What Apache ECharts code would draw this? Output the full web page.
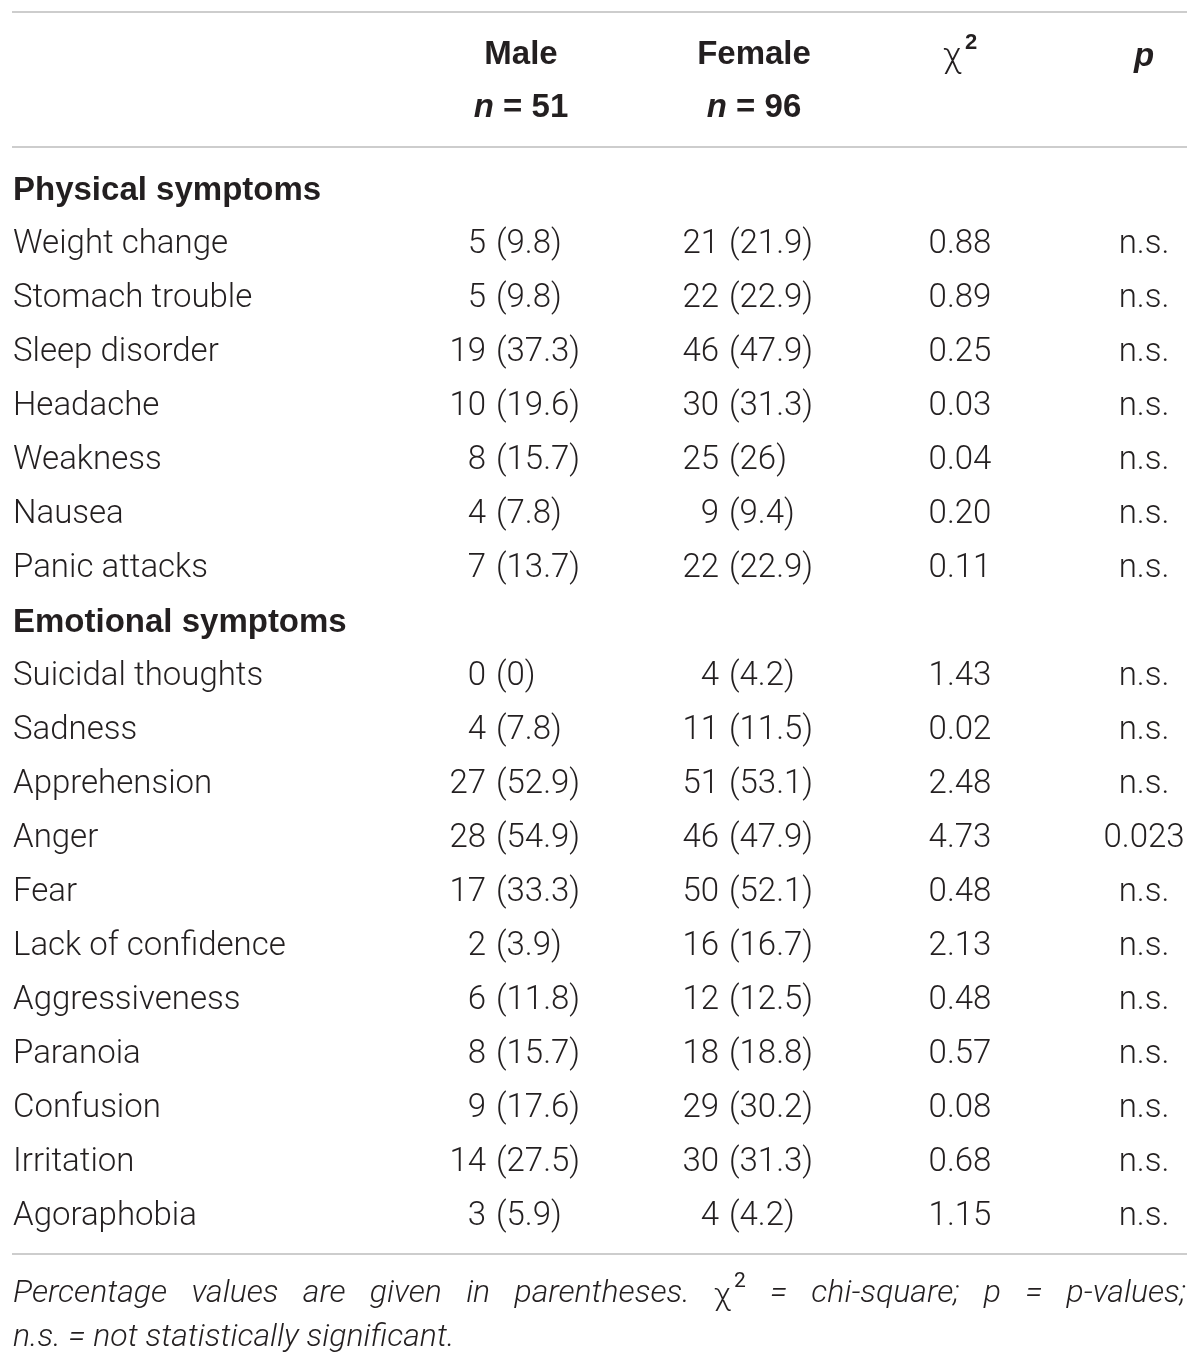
<!DOCTYPE html>
<html>
<head>
<meta charset="utf-8">
<script src="https://cdn.jsdelivr.net/npm/echarts@6/dist/echarts.min.js"></script>
<style>
html,body{margin:0;padding:0;background:#fff}
#main{width:1200px;height:1367px}
</style>
</head>
<body>
<div id="main"></div>
<script>
// table data
var groups = ['Physical symptoms', 'Emotional symptoms']
var groupSize = [7, 11]
var symptoms = ['Weight change', 'Stomach trouble', 'Sleep disorder', 'Headache', 'Weakness', 'Nausea', 'Panic attacks',
	'Suicidal thoughts', 'Sadness', 'Apprehension', 'Anger', 'Fear', 'Lack of confidence', 'Aggressiveness',
	'Paranoia', 'Confusion', 'Irritation', 'Agoraphobia']
var maleN = [5, 5, 19, 10, 8, 4, 7, 0, 4, 27, 28, 17, 2, 6, 8, 9, 14, 3]
var malePct = ['9.8', '9.8', '37.3', '19.6', '15.7', '7.8', '13.7', '0', '7.8', '52.9', '54.9', '33.3', '3.9', '11.8', '15.7', '17.6', '27.5', '5.9']
var femaleN = [21, 22, 46, 30, 25, 9, 22, 4, 11, 51, 46, 50, 16, 12, 18, 29, 30, 4]
var femalePct = ['21.9', '22.9', '47.9', '31.3', '26', '9.4', '22.9', '4.2', '11.5', '53.1', '47.9', '52.1', '16.7', '12.5', '18.8', '30.2', '31.3', '4.2']
var chiSq = ['0.88', '0.89', '0.25', '0.03', '0.04', '0.20', '0.11', '1.43', '0.02', '2.48', '4.73', '0.48', '2.13', '0.48', '0.57', '0.08', '0.68', '1.15']
var pVal = ['n.s.', 'n.s.', 'n.s.', 'n.s.', 'n.s.', 'n.s.', 'n.s.', 'n.s.', 'n.s.', 'n.s.', '0.023', 'n.s.', 'n.s.', 'n.s.', 'n.s.', 'n.s.', 'n.s.', 'n.s.']
var headTop = ['Male', 'Female']
var headN = [51, 96]
var note1 = ['Percentage', 'values', 'are', 'given', 'in', 'parentheses.', 'χ2', '=', 'chi-square;', 'p', '=', 'p-values;']
var note2 = 'n.s. = not statistically significant.'

var FAM = 'Roboto, "Liberation Sans", sans-serif'
var BFAM = '"Liberation Sans", Arial, sans-serif'
var LIGHT = '300 33px ' + FAM
var BOLD = 'bold 33px ' + BFAM
var INK = '#231f20'

// build the rows: group headings + symptoms
var rowLabel = [], rowBold = [], cols = {mN: [], mP: [], fN: [], fP: [], chi: [], p: []}
var k = 0
for (var g = 0; g < groups.length; g++) {
	rowLabel.push(groups[g]); rowBold.push(true)
	for (var c in cols) cols[c].push(null)
	for (var j = 0; j < groupSize[g]; j++, k++) {
		rowLabel.push(symptoms[k]); rowBold.push(false)
		cols.mN.push(String(maleN[k])); cols.mP.push('(' + malePct[k] + ')')
		cols.fN.push(String(femaleN[k])); cols.fP.push('(' + femalePct[k] + ')')
		cols.chi.push(chiSq[k]); cols.p.push(pVal[k])
	}
}
var rowIdx = rowLabel.map(function (r, i) { return String(i) })

function textCol(x, texts, align, fonts) {
	var data = [], txt = [], fnt = []
	texts.forEach(function (t, i) {
		if (t === null) return
		data.push([x, i]); txt.push(t)
		fnt.push(fonts ? fonts[i] : LIGHT)
	})
	return {
		type: 'custom',
		coordinateSystem: 'cartesian2d',
		silent: true,
		data: data,
		renderItem: function (params, api) {
			var pt = api.coord([api.value(0), api.value(1)])
			return {
				type: 'text',
				x: pt[0], y: pt[1],
				style: {
					text: txt[params.dataIndex],
					font: fnt[params.dataIndex],
					fill: INK,
					align: align,
					verticalAlign: 'middle'
				}
			}
		}
	}
}

var graphics = []
function hline(y) {
	graphics.push({type: 'line', shape: {x1: 12, y1: y, x2: 1187, y2: y}, style: {stroke: '#cdcdcd', lineWidth: 2}})
}
function gtext(x, y, t, font, align, extra) {
	var s = {text: t, font: font, fill: INK, align: align || 'center', verticalAlign: 'middle'}
	if (extra) for (var e in extra) s[e] = extra[e]
	graphics.push({type: 'text', x: x, y: y, style: s})
}
hline(12); hline(147); hline(1254)

// header
var headX = [521, 754]
for (var h = 0; h < 2; h++) {
	gtext(headX[h], 55, headTop[h], BOLD)
	gtext(headX[h], 108, '{i|n} = ' + headN[h], BOLD, 'center', {rich: {i: {font: 'italic bold 33px ' + BFAM, fill: INK}}})
}
gtext(952, 58, 'χ', '300 35px ' + FAM)
gtext(971, 43, '2', 'bold 22px ' + BFAM)
gtext(1144, 57, 'p', 'italic bold 33px ' + BFAM)

// footnote, first line justified
var ctx = document.createElement('canvas').getContext('2d')
var NOTE = 'italic 300 32px ' + FAM
ctx.font = NOTE
var widths = note1.map(function (w) {
	if (w === 'χ2') { ctx.font = '300 32px ' + FAM; var a = ctx.measureText('χ').width; ctx.font = '21px ' + FAM; a += ctx.measureText('2').width + 3; ctx.font = NOTE; return a }
	return ctx.measureText(w).width
})
var total = widths.reduce(function (a, b) { return a + b }, 0)
var gap = (1186 - 13 - total) / (note1.length - 1)
var nx = 13
note1.forEach(function (w, i) {
	if (w === 'χ2') {
		ctx.font = '300 32px ' + FAM
		var cw = ctx.measureText('χ').width
		gtext(nx, 1297, 'χ', '300 32px ' + FAM, 'left')
		gtext(nx + cw + 3, 1282, '2', '21px ' + FAM, 'left')
	} else {
		gtext(nx, 1294, w, NOTE, 'left')
	}
	nx += widths[i] + gap
})
gtext(13, 1338, note2, NOTE, 'left')

var myChart = echarts.init(document.getElementById('main'))
var option = {
	animation: false,
	grid: {left: 0, right: 0, top: 164, height: 1080},
	xAxis: {type: 'value', min: 0, max: 1200, show: false},
	yAxis: {type: 'category', data: rowIdx, inverse: true, show: false},
	series: [
		textCol(13, rowLabel, 'left', rowBold.map(function (b) { return b ? BOLD : LIGHT })),
		textCol(486, cols.mN, 'right'),
		textCol(496, cols.mP, 'left'),
		textCol(719, cols.fN, 'right'),
		textCol(729, cols.fP, 'left'),
		textCol(960, cols.chi, 'center'),
		textCol(1144, cols.p, 'center')
	],
	graphic: graphics
}
myChart.setOption(option)
</script>
</body>
</html>
